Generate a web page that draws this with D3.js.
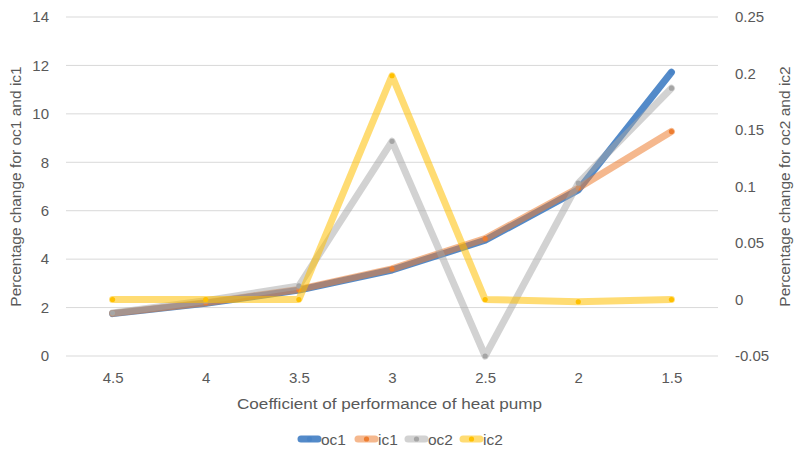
<!DOCTYPE html>
<html>
<head>
<meta charset="utf-8">
<script src="https://cdn.jsdelivr.net/npm/d3@7"></script>
<style>
  body { margin: 0; background: #fff; }
  text { font-family: "Liberation Sans", Arial, sans-serif; fill: #595959; }
</style>
</head>
<body>
<script>
// categories and series
const cop = ["4.5", "4", "3.5", "3", "2.5", "2", "1.5"];
const oc1 = [1.75, 2.18, 2.72, 3.55, 4.78, 6.86, 11.72];
const ic1 = [1.76, 2.2, 2.75, 3.6, 4.85, 6.94, 9.27];
const oc2 = [-0.012, -0.001, 0.012, 0.14, -0.05, 0.103, 0.187];
const ic2 = [0.0, 0.0, 0.0, 0.198, 0.0, -0.002, 0.0];
const leftTicks = [0, 2, 4, 6, 8, 10, 12, 14];
const rightTicks = [-0.05, 0, 0.05, 0.1, 0.15, 0.2, 0.25];

const seriesList = [
  {name: "oc1", values: oc1, axis: "left", color: "#4a84c6", op: 0.95},
  {name: "ic1", values: ic1, axis: "left", color: "#ED7D31", op: 0.55},
  {name: "oc2", values: oc2, axis: "right", color: "#A5A5A5", op: 0.5},
  {name: "ic2", values: ic2, axis: "right", color: "#FFC000", op: 0.55}
];

const width = 795, height = 452;
const m = {left: 66, right: 77, top: 17, bottom: 96};
const fs = "15px";

const svg = d3.select("body").append("svg")
  .attr("width", width).attr("height", height);

let x = d3.scalePoint().domain(cop)
  .range([m.left, width - m.right]).padding(0.5);
let yL = d3.scaleLinear().domain([0, 14]).range([height - m.bottom, m.top]);
let yR = d3.scaleLinear().domain([-0.05, 0.25]).range([height - m.bottom, m.top]);

// gridlines
svg.append("g").selectAll("line")
  .data(leftTicks).enter().append("line")
    .attr("x1", m.left).attr("x2", width - m.right)
    .attr("y1", d => yL(d)).attr("y2", d => yL(d))
    .attr("stroke", "#d9d9d9").attr("stroke-width", 1);

// left axis
let axL = svg.append("g")
  .attr("transform", `translate(${m.left - 17},0)`)
  .call(d3.axisLeft(yL).tickValues(leftTicks).tickSize(0).tickPadding(0));
axL.select(".domain").remove();
axL.selectAll("text").style("font-size", fs).attr("fill", "#595959");

// right axis
let axR = svg.append("g")
  .attr("transform", `translate(${width - m.right + 17},0)`)
  .call(d3.axisRight(yR).tickValues(rightTicks).tickSize(0).tickPadding(0)
    .tickFormat(d => String(+d.toFixed(2))));
axR.select(".domain").remove();
axR.selectAll("text").style("font-size", fs).attr("fill", "#595959");

// x axis
let axX = svg.append("g")
  .attr("transform", `translate(0,${height - m.bottom + 16})`)
  .call(d3.axisBottom(x).tickSize(0).tickPadding(0));
axX.select(".domain").remove();
axX.selectAll("text").style("font-size", fs).attr("fill", "#595959");

// titles
svg.append("text")
  .attr("transform", `translate(21,${(m.top + height - m.bottom) / 2}) rotate(-90)`)
  .attr("text-anchor", "middle").style("font-size", "15.5px")
  .text("Percentage change for oc1 and ic1");
svg.append("text")
  .attr("transform", `translate(790,${(m.top + height - m.bottom) / 2}) rotate(-90)`)
  .attr("text-anchor", "middle").style("font-size", "15.5px")
  .text("Percentage change for oc2 and ic2");
svg.append("text")
  .attr("x", 237).attr("y", 409)
  .attr("textLength", 305).attr("lengthAdjust", "spacingAndGlyphs")
  .style("font-size", "15.5px")
  .text("Coefficient of performance of heat pump");

// lines
seriesList.forEach(s => {
  let y = s.axis == "left" ? yL : yR;
  let line = d3.line().x((d, i) => x(cop[i])).y(d => y(d));
  svg.append("path")
    .datum(s.values)
    .attr("d", line)
    .attr("fill", "none")
    .attr("stroke", s.color)
    .attr("stroke-width", 7)
    .attr("stroke-opacity", s.op)
    .attr("stroke-linejoin", "round")
    .attr("stroke-linecap", "round");
  svg.append("g").selectAll("circle")
    .data(s.values).enter().append("circle")
      .attr("cx", (d, i) => x(cop[i]))
      .attr("cy", d => y(d))
      .attr("r", 2.6)
      .attr("fill", s.color);
});

// legend
const legendX = [298, 355, 405, 460];
let legend = svg.append("g").attr("id", "legend");
seriesList.forEach((s, i) => {
  let g = legend.append("g").attr("transform", `translate(${legendX[i]},439)`);
  g.append("line").attr("x1", 3).attr("x2", 20).attr("y1", 0).attr("y2", 0)
    .attr("stroke", s.color).attr("stroke-width", 7)
    .attr("stroke-opacity", s.op)
    .attr("stroke-linecap", "round");
  g.append("circle").attr("cx", 11.5).attr("cy", 0).attr("r", 2.6).attr("fill", s.color);
  g.append("text").attr("x", 23).attr("y", 5.5).style("font-size", "15.5px").text(s.name);
});
</script>
</body>
</html>
